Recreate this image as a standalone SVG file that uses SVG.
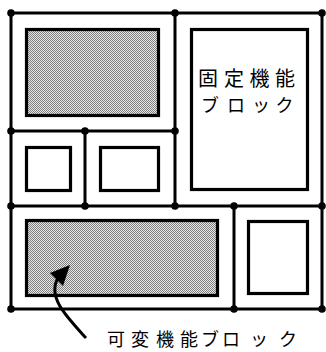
<svg xmlns="http://www.w3.org/2000/svg" width="326" height="352" viewBox="0 0 326 352">
<style>
.ln{stroke:#000;stroke-width:3;fill:none;stroke-linecap:square}
.bx{stroke:#000;stroke-width:3.2;fill:#fff}
.gr{stroke:#000;stroke-width:3.2;fill:url(#dots)}
.dt{fill:#000}
.tx{font-family:"Noto Sans CJK JP","Noto Sans CJK SC",sans-serif;fill:#000;text-anchor:middle}
</style>
<defs>
<pattern id="dots" width="2" height="2" patternUnits="userSpaceOnUse">
<rect width="2" height="2" fill="#e6e6e6"/>
<rect width="1" height="1" fill="#808080"/>
<rect x="1" y="1" width="1" height="1" fill="#808080"/>
</pattern>
</defs>
<rect width="326" height="352" fill="#fff"/>
<g id="connectors">
<path class="ln" d="M11,13H322V309H11Z"/>
<path class="ln" d="M11,131H175"/>
<path class="ln" d="M11,206H322"/>
<path class="ln" d="M175,13V206"/>
<path class="ln" d="M85,131V206"/>
<path class="ln" d="M234,206V309"/>
<g class="dt">
<circle cx="11" cy="13" r="3.8"/>
<circle cx="175" cy="13" r="3.8"/>
<circle cx="322" cy="13" r="3.8"/>
<circle cx="11" cy="131" r="3.8"/>
<circle cx="85" cy="131" r="3.8"/>
<circle cx="175" cy="131" r="3.8"/>
<circle cx="11" cy="206" r="3.8"/>
<circle cx="85" cy="206" r="3.8"/>
<circle cx="175" cy="206" r="3.8"/>
<circle cx="234" cy="206" r="3.8"/>
<circle cx="322" cy="206" r="3.8"/>
<circle cx="11" cy="309" r="3.8"/>
<circle cx="234" cy="309" r="3.8"/>
<circle cx="322" cy="309" r="3.8"/>
</g>
</g>
<g id="var1"><rect class="gr" x="26.5" y="29.5" width="132" height="86"/></g>
<g id="fixed">
<rect class="bx" x="191.5" y="29.5" width="116" height="160"/>
<text class="tx" font-size="20" x="208 234 259.5 285" y="86">固定機能</text>
<text class="tx" font-size="18" x="210 236 261 284.5" y="112">ブロック</text>
</g>
<g id="small1"><rect class="bx" x="26.5" y="147.5" width="44" height="43"/></g>
<g id="small2"><rect class="bx" x="100.5" y="147.5" width="58" height="43"/></g>
<g id="var2"><rect class="gr" x="26.5" y="220.5" width="191" height="75"/></g>
<g id="small3"><rect class="bx" x="248.5" y="221.5" width="59" height="72"/></g>
<g id="pointer">
<path d="M86,338 C66,316 47,297 58,278" stroke="#000" stroke-width="3" fill="none"/>
<polygon points="70,265 50,273 63,286" fill="#000"/>
</g>
<g id="label">
<text class="tx" font-size="18" x="116 140 165 189 210 231 259 288" y="346">可変機能ブロック</text>
</g>
</svg>
